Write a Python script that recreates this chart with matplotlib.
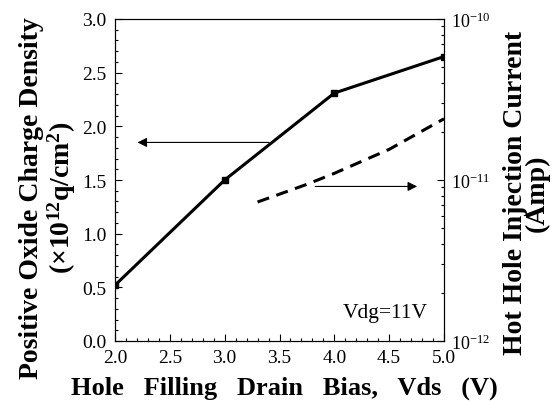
import matplotlib
matplotlib.use("Agg")
import matplotlib.pyplot as plt
from matplotlib.ticker import MultipleLocator, LogLocator, NullFormatter, FormatStrFormatter

plt.rcParams['font.family'] = ['Liberation Serif', 'DejaVu Serif']
plt.rcParams['mathtext.fontset'] = 'custom'
plt.rcParams['mathtext.rm'] = 'Liberation Serif'
plt.rcParams['mathtext.bf'] = 'Liberation Serif:bold'

vds = [2.0, 3.0, 4.0, 5.0]
charge = [0.52, 1.50, 2.31, 2.65]
vds_i = [3.3, 3.75, 4.0, 4.5, 5.0]
current = [7.3e-12, 9.4e-12, 1.1e-11, 1.55e-11, 2.4e-11]

fig = plt.figure(figsize=(5.57, 4.02), dpi=100)
ax = fig.add_axes([115/557, 1-342/402, 329/557, 322/402])
ax2 = ax.twinx()

ax.plot(vds, charge, color='black', lw=2.2, marker='s', ms=5)
ax2.plot(vds_i, current, color='black', lw=2.2, ls=(0, (4, 2.5)))

ax.set_xlim(2.0, 5.0)
ax.set_ylim(0.0, 3.0)
ax2.set_yscale('log')
ax2.set_ylim(1e-12, 1e-10)

ax.xaxis.set_major_locator(MultipleLocator(0.5))
ax.xaxis.set_minor_locator(MultipleLocator(0.1))
ax.yaxis.set_major_locator(MultipleLocator(0.5))
ax.yaxis.set_minor_locator(MultipleLocator(0.1))
ax.xaxis.set_major_formatter(FormatStrFormatter('%.1f'))
ax.yaxis.set_major_formatter(FormatStrFormatter('%.1f'))
ax2.yaxis.set_major_locator(LogLocator(base=10, numticks=5))
ax2.yaxis.set_minor_locator(LogLocator(base=10, subs=range(2, 10), numticks=10))
ax2.yaxis.set_minor_formatter(NullFormatter())

for a in (ax, ax2):
    a.tick_params(which='major', direction='in', length=5, width=0.8, labelsize=14)
    a.tick_params(which='minor', direction='in', length=2.5, width=0.8)
ax.tick_params(axis='x', pad=6)
ax.tick_params(axis='y', pad=6)
ax2.tick_params(axis='y', pad=5, labelsize=13)

ax.set_xlabel('Hole   Filling   Drain   Bias,   Vds   (V)', fontsize=19, fontweight='bold')
ax.xaxis.set_label_coords(0.514, -0.106)
ax.set_ylabel('Positive Oxide Charge Density\n' + r'($\mathbf{\times10^{12}}$q/cm$\mathbf{^2}$)',
              fontsize=20, fontweight='bold', linespacing=1.05)
ax.yaxis.set_label_coords(-0.112, 0.447)
ax2.set_ylabel('Hot Hole Injection Current\n(Amp)', fontsize=20, fontweight='bold',
               rotation=90, linespacing=0.85)
ax2.yaxis.set_label_coords(1.179, 0.463)

ax.annotate('', xy=(2.18, 1.85), xytext=(3.43, 1.85),
            arrowprops=dict(arrowstyle='-|>', color='black', lw=0.8, mutation_scale=14))
ax.annotate('', xy=(4.78, 1.44), xytext=(3.8, 1.44),
            arrowprops=dict(arrowstyle='-|>', color='black', lw=0.8, mutation_scale=14))

ax.text(4.85, 0.27, 'Vdg=11V', fontsize=15.5, ha='right', va='center')

fig.savefig('out.png', dpi=100)
